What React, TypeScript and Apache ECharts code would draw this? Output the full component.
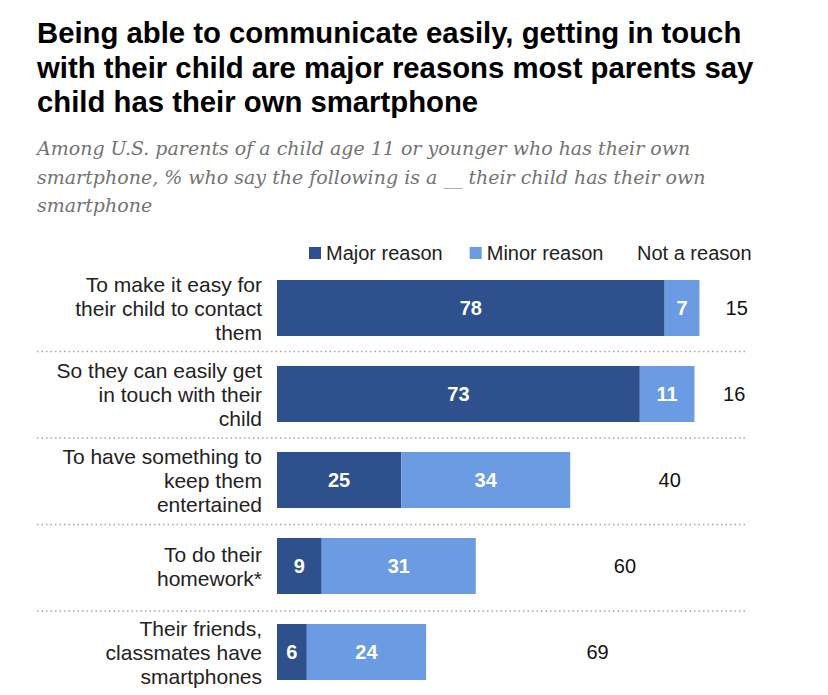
import React, { useEffect, useRef } from "react";
import * as echarts from "echarts";

const titleText =
  "Being able to communicate easily, getting in touch\nwith their child are major reasons most parents say\nchild has their own smartphone";
const subtitleText =
  "Among U.S. parents of a child age 11 or younger who has their own\nsmartphone, % who say the following is a __ their child has their own\nsmartphone";

const categories = [
  "To make it easy for\ntheir child to contact\nthem",
  "So they can easily get\nin touch with their\nchild",
  "To have something to\nkeep them\nentertained",
  "To do their\nhomework*",
  "Their friends,\nclassmates have\nsmartphones",
];
const seriesNames = ["Major reason", "Minor reason", "Not a reason"];
const majorValues = [78, 73, 25, 9, 6];
const minorValues = [7, 11, 34, 31, 24];
const notValues = [15, 16, 40, 60, 69];

const SANS = "'Liberation Sans', Arial, sans-serif";
const MAJOR_COLOR = "#2e508c";
const MINOR_COLOR = "#6b9be3";

const GRID_TOP = 265;
const GRID_HEIGHT = 432.5;
const GRID_LEFT = 277;
const GRID_RIGHT = 54;

export default function App() {
  const ref = useRef<HTMLDivElement>(null);

  useEffect(() => {
    document.body.style.margin = "0";
    const chart = echarts.init(ref.current!, null, { renderer: "svg" });
    const step = GRID_HEIGHT / categories.length;
    const separators = categories.slice(1).map((_, i) => ({
      type: "line",
      silent: true,
      shape: { x1: 37, y1: GRID_TOP + step * (i + 1), x2: 745, y2: GRID_TOP + step * (i + 1) },
      style: { stroke: "#a8a8a8", lineWidth: 1.5, lineDash: [1.5, 3] },
    }));

    const baseLabel = { show: true, position: "inside", fontFamily: SANS, fontSize: 20 };
    const legendText = { fontFamily: SANS, fontSize: 20, color: "#222222" };

    chart.setOption({
      animation: false,
      backgroundColor: "#ffffff",
      title: {
        text: titleText,
        subtext: subtitleText,
        left: 37,
        top: 15.5,
        padding: 0,
        itemGap: 15,
        textStyle: {
          fontFamily: SANS,
          fontWeight: "bold",
          fontSize: 29.3,
          lineHeight: 34.5,
          color: "#000000",
        },
        subtextStyle: {
          fontFamily: "'DejaVu Serif', Georgia, serif",
          fontStyle: "italic",
          fontSize: 19,
          lineHeight: 28.5,
          color: "#737373",
        },
      },
      legend: [
        {
          left: 309,
          top: 243,
          padding: 0,
          itemWidth: 12,
          itemHeight: 12,
          itemGap: 27,
          icon: "rect",
          selectedMode: false,
          textStyle: legendText,
          data: [{ name: seriesNames[0] }, { name: seriesNames[1] }],
        },
        {
          left: 632,
          top: 243,
          padding: 0,
          itemWidth: 0,
          itemHeight: 12,
          icon: "rect",
          selectedMode: false,
          textStyle: legendText,
          data: [{ name: seriesNames[2], itemStyle: { opacity: 0 } }],
        },
      ],
      grid: { left: GRID_LEFT, right: GRID_RIGHT, top: GRID_TOP, height: GRID_HEIGHT },
      xAxis: { type: "value", min: 0, max: 100, show: false },
      yAxis: {
        type: "category",
        inverse: true,
        data: categories,
        axisLine: { show: false },
        axisTick: { show: false },
        splitLine: { show: false },
        axisLabel: {
          fontFamily: SANS,
          fontSize: 21,
          lineHeight: 24,
          color: "#222222",
          margin: 15,
          align: "right",
        },
      },
      graphic: separators,
      series: [
        {
          name: seriesNames[0],
          type: "bar",
          stack: "all",
          barWidth: 56,
          data: majorValues,
          itemStyle: { color: MAJOR_COLOR },
          label: { ...baseLabel, color: "#ffffff", fontWeight: "bold" },
          emphasis: { disabled: true },
          silent: true,
        },
        {
          name: seriesNames[1],
          type: "bar",
          stack: "all",
          barWidth: 56,
          data: minorValues,
          itemStyle: { color: MINOR_COLOR },
          label: { ...baseLabel, color: "#ffffff", fontWeight: "bold" },
          emphasis: { disabled: true },
          silent: true,
        },
        {
          name: seriesNames[2],
          type: "bar",
          stack: "all",
          barWidth: 56,
          data: notValues,
          itemStyle: { color: "rgba(0,0,0,0)" },
          label: { ...baseLabel, color: "#111111", fontWeight: "normal" },
          emphasis: { disabled: true },
          silent: true,
        },
      ],
    });
    return () => chart.dispose();
  }, []);

  return <div ref={ref} style={{ width: 828, height: 695 }} />;
}
